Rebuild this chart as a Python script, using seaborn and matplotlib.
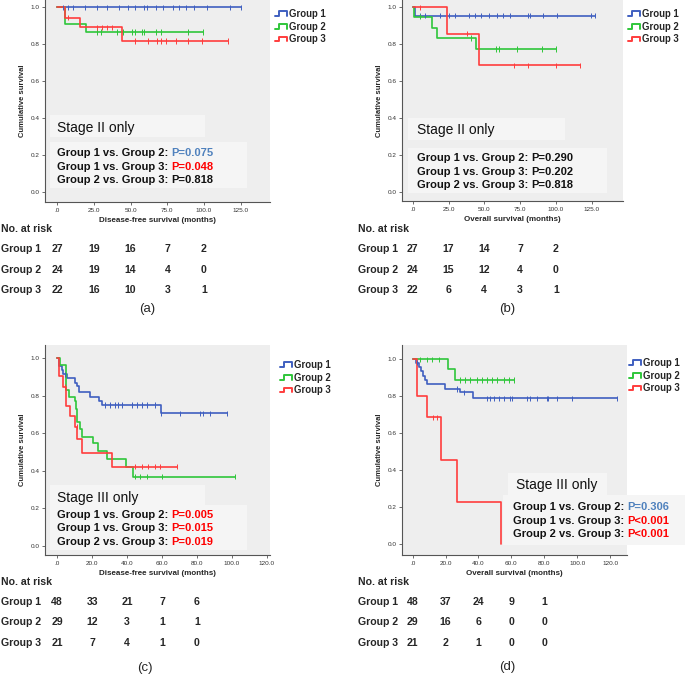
import numpy as np
import pandas as pd
import matplotlib
matplotlib.use("Agg")
import matplotlib.pyplot as plt
import matplotlib.transforms as mtransforms
from matplotlib.legend_handler import HandlerBase
from matplotlib.lines import Line2D
from matplotlib.patches import Rectangle
import seaborn as sns

# ---- data ----
groups = ["Group 1", "Group 2", "Group 3"]

# (a) disease-free survival, stage II
a_g1_t = [0]; a_g1_s = [1.0]; a_g1_end = 125
a_g1_c = [4, 7.5, 11, 19, 27, 34, 42, 48, 53, 59, 61, 67, 72, 79, 83, 88, 93, 102, 118, 125]
a_g2_t = [0, 5, 19.5]; a_g2_s = [1.0, 0.91, 0.866]; a_g2_end = 99
a_g2_c = [27, 30, 40.5, 45, 50.7, 53, 57.5, 59, 67.3, 71, 89.3, 99]
a_g3_t = [0, 5, 15.5, 44.3]; a_g3_s = [1.0, 0.945, 0.892, 0.818]; a_g3_end = 116.6
a_g3_c = [7.5, 27.3, 30.2, 33.6, 37, 53, 62, 67.7, 70.7, 73.9, 80.7, 89.3, 98.4, 116.6]

# (b) overall survival, stage II
b_g1_t = [0, 1.6]; b_g1_s = [1.0, 0.955]; b_g1_end = 127
b_g1_c = [5, 8.6, 19, 25, 29.6, 39, 43.5, 48, 53, 58.7, 63.3, 68, 80.8, 82, 91.3, 100.6, 124.3, 127]
b_g2_t = [0, 1, 13.3, 17.2, 44]; b_g2_s = [1.0, 0.95, 0.89, 0.835, 0.775]; b_g2_end = 100
b_g2_c = [5, 41, 58, 60, 73, 90, 100]
b_g3_t = [0, 24.2, 46.3]; b_g3_s = [1.0, 0.857, 0.686]; b_g3_end = 117
b_g3_c = [5, 37.7, 70.8, 80.8, 100, 117]

# (c) disease-free survival, stage III
c_g1_t = [0, 1.1, 2.5, 3.5, 5.5, 10.1, 11.6, 12.4, 18.7, 23.9, 25.8, 59.4]
c_g1_s = [1.0, 0.96, 0.94, 0.915, 0.893, 0.87, 0.85, 0.822, 0.795, 0.772, 0.751, 0.706]
c_g1_end = 97
c_g1_c = [4.4, 27.3, 30.2, 33, 35, 36.9, 42.6, 45.5, 48.3, 51.2, 56, 59.4, 70.3, 81.8, 83.7, 87.5, 97]
c_g2_t = [0, 1.5, 4.8, 6.5, 10.1, 11.0, 11.6, 13.0, 14.0, 20.6, 23.1, 28.3, 39.4, 43.6]
c_g2_s = [1.0, 0.965, 0.83, 0.795, 0.77, 0.73, 0.66, 0.62, 0.578, 0.546, 0.507, 0.461, 0.418, 0.368]
c_g2_end = 101.8
c_g2_c = [44.5, 47.4, 51.2, 59.8, 101.8]
c_g3_t = [0, 1.1, 3.4, 4.8, 7.6, 10.1, 11.5, 14, 31.1]
c_g3_s = [1.0, 0.906, 0.849, 0.746, 0.692, 0.635, 0.568, 0.493, 0.422]
c_g3_end = 68.4
c_g3_c = [4.4, 11.1, 44.5, 48.3, 52.2, 56, 58.9, 68.4]

# (d) overall survival, stage III
d_g1_t = [0, 2, 3.9, 5.1, 6.5, 7.5, 8.5, 19.7, 28.9, 36.6]
d_g1_s = [1.0, 0.982, 0.96, 0.935, 0.91, 0.888, 0.865, 0.839, 0.82, 0.789]
d_g1_end = 124
d_g1_c = [2.8, 26.8, 31.3, 45.2, 47.2, 49.2, 52.3, 55.3, 59, 60.4, 69.6, 71.6, 75.7, 81.4, 82.2, 87.9, 97, 124]
d_g2_t = [0, 21.2, 25.8]; d_g2_s = [1.0, 0.946, 0.888]; d_g2_end = 61.4
d_g2_c = [4.5, 8.5, 11.6, 15.7, 28.9, 31.9, 35, 39, 42.1, 45.2, 48.2, 51.3, 55.3, 58.4, 61.4]
d_g3_t = [0, 2.4, 8.5, 17.3, 26.8, 53.7]; d_g3_s = [1.0, 0.8, 0.685, 0.457, 0.228, 0.0]; d_g3_end = 53.7
d_g3_c = [12.6, 14.6]

# numbers at risk
risk_t_ab = [0, 25, 50, 75, 100]
risk_t_cd = [0, 20, 40, 60, 80]
risk_a = [[27, 19, 16, 7, 2], [24, 19, 14, 4, 0], [22, 16, 10, 3, 1]]
risk_b = [[27, 17, 14, 7, 2], [24, 15, 12, 4, 0], [22, 6, 4, 3, 1]]
risk_c = [[48, 33, 21, 7, 6], [29, 12, 3, 1, 1], [21, 7, 4, 1, 0]]
risk_d = [[48, 37, 24, 9, 1], [29, 16, 6, 0, 0], [21, 2, 1, 0, 0]]

# comparisons
comparisons = ["Group 1 vs. Group 2:", "Group 1 vs. Group 3:", "Group 2 vs. Group 3:"]
p_a = ["P=0.075", "P=0.048", "P=0.818"]
p_b = ["P=0.290", "P=0.202", "P=0.818"]
p_c = ["P=0.005", "P=0.015", "P=0.019"]
p_d = ["P=0.306", "P<0.001", "P<0.001"]

BLUE, GREEN, RED = "#3f5fc0", "#2fc63a", "#ff3d3d"
PBLUE, PRED, PBLACK = "#4f81bd", "#ff0000", "#111111"
p_col_a = [PBLUE, PRED, PBLACK]
p_col_b = [PBLACK, PBLACK, PBLACK]
p_col_c = [PRED, PRED, PRED]
p_col_d = [PBLUE, PRED, PRED]
pal = dict(zip(groups, [BLUE, GREEN, RED]))

sns.set_theme(style="white")
plt.rcParams['font.family'] = ['Liberation Sans', 'DejaVu Sans']

W, H = 685, 675
fig = plt.figure(figsize=(W / 100, H / 100), dpi=100)


def fx(px):
    return px / W


def fy(py):
    return 1 - py / H


class StepHandler(HandlerBase):
    # little SPSS-like step glyph for the legend
    def create_artists(self, legend, orig_handle, xdescent, ydescent, width, height, fontsize, trans):
        xs = np.array([0, 0.3, 0.3, 1, 1]) * width - xdescent
        ys = np.array([0.1, 0.1, 0.85, 0.85, 0.1]) * height - ydescent
        return [Line2D(xs, ys, color=orig_handle.get_color(), lw=1.4, transform=trans)]


def frames(curves):
    lines, cens = [], []
    for name, (t, s, end, c) in zip(groups, curves):
        tt, ss = list(t), list(s)
        if end > t[-1]:
            tt.append(end)
            ss.append(s[-1])
        lines.append(pd.DataFrame({"time": tt, "surv": ss, "group": name}))
        idx = np.searchsorted(t, c, side="right") - 1
        cens.append(pd.DataFrame({"time": c, "surv": np.asarray(s)[idx], "group": name}))
    return pd.concat(lines, ignore_index=True), pd.concat(cens, ignore_index=True)


def panel(box, xlim, ylim, xstep, xlabel, curves, risk, risk_t, pvals, pcols, stage,
          stage_box, stage_xy, p_box, p_x, p_y, leg_xy, risk_x, risk_y, letter, letter_xy):
    l, t, r, b = box
    ax = fig.add_axes([fx(l), fy(b), (r - l) / W, (b - t) / H])
    ax.set_facecolor("#eeeeee")
    lines, cens = frames(curves)
    sns.lineplot(data=lines, x="time", y="surv", hue="group", palette=pal, drawstyle="steps-post",
                 estimator=None, sort=False, legend=False, lw=1.2, ax=ax)
    sns.scatterplot(data=cens, x="time", y="surv", hue="group", palette=pal, marker="|", s=14,
                    linewidth=0.7, legend=False, ax=ax, zorder=3)
    ax.set_xlim(*xlim)
    ax.set_ylim(*ylim)
    xt = np.arange(0, xlim[1], xstep)
    ax.set_xticks(xt)
    ax.set_xticklabels([".0"] + [f"{v:.1f}" for v in xt[1:]], fontsize=4.6, color="#333333")
    yt = np.arange(0, 1.01, 0.2)
    ax.set_yticks(yt)
    ax.set_yticklabels([f"{v:.1f}" for v in yt], fontsize=4.6, color="#333333")
    ax.tick_params(direction="out", length=2.5, width=0.6, color="#555555", pad=1.5,
                   bottom=True, left=True)
    for sp in ["top", "right"]:
        ax.spines[sp].set_visible(False)
    for sp in ["left", "bottom"]:
        ax.spines[sp].set_color("#555555")
        ax.spines[sp].set_linewidth(0.8)
    ax.set_xlabel(xlabel, fontsize=5.8, fontweight="bold", labelpad=3)
    ax.set_ylabel("Cumulative survival", fontsize=5.5, fontweight="bold", labelpad=3)

    handles = [Line2D([], [], color=pal[g]) for g in groups]
    ax.legend(handles, groups, handler_map={Line2D: StepHandler()}, loc="upper left",
              bbox_to_anchor=(fx(leg_xy[0]), fy(leg_xy[1])), bbox_transform=fig.transFigure,
              frameon=False, prop={"weight": "bold", "size": 6.9}, handlelength=1.3,
              handleheight=0.6, handletextpad=0.2, labelspacing=0.28, borderpad=0, borderaxespad=0)

    # annotation boxes
    for (x0, y0, x1, y1) in [stage_box, p_box]:
        ax.add_patch(Rectangle((fx(x0), fy(y1)), (x1 - x0) / W, (y1 - y0) / H, transform=fig.transFigure,
                               facecolor="#f5f5f5", edgecolor="none", clip_on=False, zorder=0.5))
    ax.text(fx(stage_xy[0]), fy(stage_xy[1] + 5), stage, transform=fig.transFigure, fontsize=10,
            va="baseline", color="#111111", zorder=4)
    renderer = fig.canvas.get_renderer()
    for lab, pv, pc, yy in zip(comparisons, pvals, pcols, p_y):
        t1 = ax.text(fx(p_x), fy(yy + 4), lab, transform=fig.transFigure, fontsize=8,
                     fontweight="bold", va="baseline", color="#111111", zorder=4)
        bb = t1.get_window_extent(renderer)
        ax.text(bb.x1 / fig.bbox.width + fx(3), fy(yy + 4), pv, transform=fig.transFigure, fontsize=8,
                fontweight="bold", va="baseline", color=pc, zorder=4)

    # numbers at risk table
    tr = mtransforms.blended_transform_factory(ax.transData, fig.transFigure)
    fig.text(fx(risk_x), fy(risk_y[0]), "No. at risk", fontsize=7.6, fontweight="bold", va="center")
    for g, row, yy in zip(groups, risk, risk_y[1:]):
        fig.text(fx(risk_x), fy(yy), g, fontsize=7.6, fontweight="bold", va="center")
        for tt, n in zip(risk_t, row):
            ax.text(tt, fy(yy), str(n), transform=tr, fontsize=7.6, fontweight="bold",
                    ha="center", va="center", clip_on=False)
    fig.text(fx(letter_xy[0]), fy(letter_xy[1]), letter, fontsize=9.5, ha="center", va="center")
    return ax


panel((45, 0, 270, 202), (-8.4, 145), (-0.056, 1.04), 25, "Disease-free survival (months)",
      [(a_g1_t, a_g1_s, a_g1_end, a_g1_c), (a_g2_t, a_g2_s, a_g2_end, a_g2_c), (a_g3_t, a_g3_s, a_g3_end, a_g3_c)],
      risk_a, risk_t_ab, p_a, p_col_a, "Stage II only",
      (50, 115, 205, 137), (57, 127), (50, 142, 247, 188), 57, [152, 166, 179],
      (275, 9), 1, [229, 249, 270, 290], "(a)", (147, 309))

panel((402, 0, 623, 201), (-7.5, 146.9), (-0.047, 1.04), 25, "Overall survival (months)",
      [(b_g1_t, b_g1_s, b_g1_end, b_g1_c), (b_g2_t, b_g2_s, b_g2_end, b_g2_c), (b_g3_t, b_g3_s, b_g3_end, b_g3_c)],
      risk_b, risk_t_ab, p_b, p_col_b, "Stage II only",
      (408, 118, 565, 140), (417, 129), (408, 148, 607, 193), 417, [157, 171, 184],
      (628, 9), 358, [229, 249, 270, 290], "(b)", (507, 309))

panel((45, 345, 270, 555), (-7.0, 121.9), (-0.05, 1.071), 20, "Disease-free survival (months)",
      [(c_g1_t, c_g1_s, c_g1_end, c_g1_c), (c_g2_t, c_g2_s, c_g2_end, c_g2_c), (c_g3_t, c_g3_s, c_g3_end, c_g3_c)],
      risk_c, risk_t_cd, p_c, p_col_c, "Stage III only",
      (50, 485, 205, 505), (57, 497), (50, 505, 247, 550), 57, [514, 527, 541],
      (280, 360), 1, [582, 602, 622, 643], "(c)", (145, 668))

panel((402, 345, 627, 555), (-6.5, 130.3), (-0.06, 1.077), 20, "Overall survival (months)",
      [(d_g1_t, d_g1_s, d_g1_end, d_g1_c), (d_g2_t, d_g2_s, d_g2_end, d_g2_c), (d_g3_t, d_g3_s, d_g3_end, d_g3_c)],
      risk_d, risk_t_cd, p_d, p_col_d, "Stage III only",
      (508, 473, 607, 495), (516, 484), (503, 495, 685, 545), 513, [506, 520, 533],
      (629, 358), 358, [582, 602, 622, 643], "(d)", (507, 667))

fig.savefig("out.png", dpi=100)
